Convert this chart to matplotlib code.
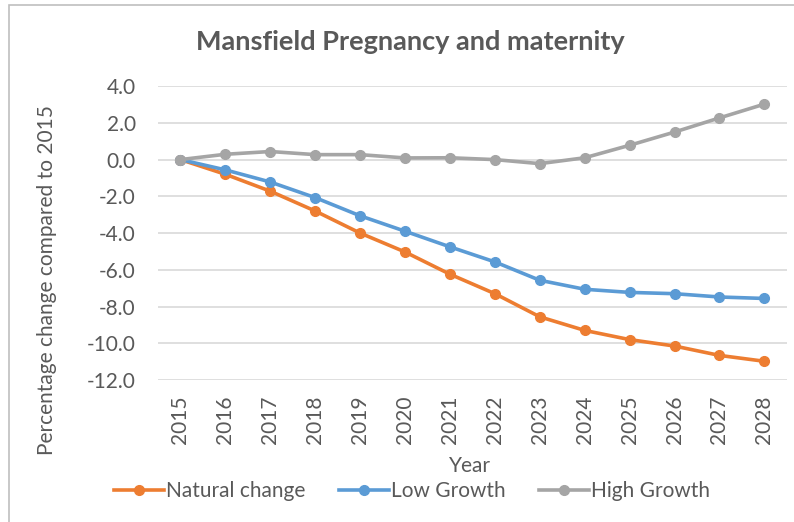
import matplotlib.pyplot as plt
from matplotlib.patches import Rectangle

plt.rcParams['font.family'] = ['Lato', 'DejaVu Sans']

# 数据
years = [str(y) for y in range(2015, 2029)]
natural_change = [0.0, -0.8, -1.72, -2.8, -4.0, -5.03, -6.24, -7.3, -8.56, -9.3, -9.8, -10.15, -10.66, -10.98]
low_growth = [0.0, -0.56, -1.22, -2.07, -3.06, -3.9, -4.75, -5.57, -6.57, -7.06, -7.23, -7.3, -7.48, -7.56]
high_growth = [0.0, 0.29, 0.44, 0.27, 0.27, 0.09, 0.1, 0.0, -0.22, 0.1, 0.78, 1.5, 2.27, 3.02]

y_ticks = [4.0, 2.0, 0.0, -2.0, -4.0, -6.0, -8.0, -10.0, -12.0]

text_col = '#595959'

fig = plt.figure(figsize=(7.94, 5.22), dpi=100)
ax = fig.add_axes([0.199, 0.272, 0.792, 0.563])

# 外框
fig.patches.append(Rectangle((9 / 794, -0.1), 1.2, 1 - 5 / 522 + 0.1, transform=fig.transFigure,
                             fill=False, edgecolor='#BFBFBF', linewidth=1.2))

x = range(len(years))
ax.plot(x, natural_change, color='#ED7D31', lw=2.6, marker='o', ms=7, label='Natural change')
ax.plot(x, low_growth, color='#5B9BD5', lw=2.6, marker='o', ms=7, label='Low Growth')
ax.plot(x, high_growth, color='#A5A5A5', lw=2.6, marker='o', ms=7, label='High Growth')

ax.set_xlim(-0.5, len(years) - 0.5)
ax.set_ylim(-12, 4)
ax.set_yticks(y_ticks)
ax.set_yticklabels([f'{v:.1f}' for v in y_ticks])
ax.set_xticks(list(x))
ax.set_xticklabels(years, rotation=90)
ax.grid(axis='y', color='#D9D9D9', lw=1.2)
ax.set_axisbelow(True)
for s in ax.spines.values():
    s.set_visible(False)
ax.tick_params(length=0, labelsize=15, labelcolor=text_col)
ax.tick_params(axis='y', pad=16)
ax.tick_params(axis='x', pad=11)

fig.text(410 / 794, 1 - 42 / 522, 'Mansfield Pregnancy and maternity', ha='center', va='center',
         fontsize=19.5, fontweight='bold', color=text_col)
fig.text(470 / 794, 1 - 466 / 522, 'Year', ha='center', va='center', fontsize=15, color=text_col)
fig.text(47 / 794, 1 - 280 / 522, 'Percentage change compared to 2015', ha='center', va='center',
         rotation=90, fontsize=15, color=text_col)

fig.legend(loc='center', bbox_to_anchor=(412 / 794, 1 - 491 / 522), ncol=3, frameon=False,
           fontsize=15, labelcolor=text_col, handlelength=2.4, handletextpad=0.1, columnspacing=1.6)

plt.savefig('out.png', dpi=100)
